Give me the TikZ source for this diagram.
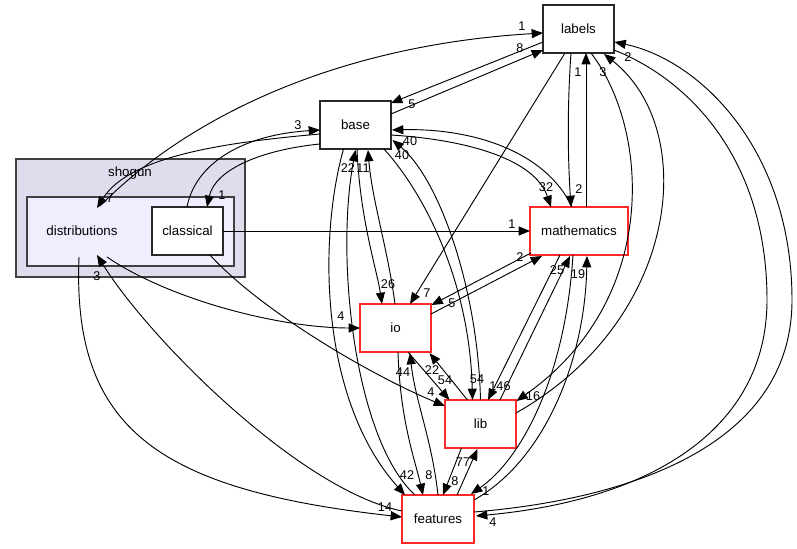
\documentclass[tikz,border=0pt]{standalone}
\usepackage{fontspec}
\setmainfont{Liberation Sans}
\usetikzlibrary{arrows.meta,calc}
\definecolor{clouter}{RGB}{221,221,238}
\definecolor{clinner}{RGB}{238,238,255}
\definecolor{clborder}{RGB}{64,64,64}
\definecolor{boxborder}{RGB}{40,40,40}
\definecolor{redborder}{RGB}{255,40,40}
\begin{document}
\begin{tikzpicture}[x=0.75pt,y=-0.75pt,
  box/.style={draw=boxborder,fill=white,line width=0.85pt,minimum width=53.25pt,minimum height=36pt,inner sep=0pt,font=\fontsize{10}{12}\selectfont},
  redbox/.style={box,draw=redborder},
  edge/.style={-{Triangle[length=8.5pt,width=6.8pt]},line width=0.7pt,black},
  lbl/.style={font=\fontsize{9.5}{11}\selectfont,inner sep=0pt}]
\useasboundingbox (0,0) rectangle (797,549);
\fill[white] (0,0) rectangle (797,549);
% clusters
\draw[fill=clouter,draw=clborder,line width=0.85pt] (16,159) rectangle (245,277);
\node[font=\fontsize{10}{12}\selectfont] (shogunlbl) at (130,173) {shogun};
\draw[fill=clinner,draw=clborder,line width=0.85pt] (27,197) rectangle (234,266);
% nodes
\node[font=\fontsize{10}{12}\selectfont,inner sep=0pt] (dist) at (82,231) {distributions};
\node[box] (classical) at (187.5,231) {classical};
\node[box] (labels) at (578.5,29) {labels};
\node[box] (base) at (355.5,125) {base};
\node[redbox,minimum width=73.5pt] (math) at (579,231) {mathematics};
\node[redbox] (io) at (395.5,328) {io};
\node[redbox] (lib) at (480.5,424) {lib};
\node[redbox,minimum width=54pt] (features) at (438,519) {features};
% edges
\draw[edge] ([shift={(18,-25)}]dist.center) .. controls (190,115) and (340,45) .. ([shift={(-35.5,4)}]labels.center);
\draw[edge] ([shift={(-35.5,9)}]base.center) .. controls (230,142) and (130,155) .. ([shift={(15,-23)}]dist.center);
\draw[edge] ([shift={(-0.5,-24)}]classical.center) .. controls (195,165) and (240,135) .. ([shift={(-35.5,5)}]base.center);
\draw[edge] ([shift={(-35.5,19)}]base.center) .. controls (260,150) and (215,170) .. ([shift={(19.5,-24)}]classical.center);
\draw[edge] ([shift={(-35.5,13)}]labels.center) -- ([shift={(35.5,-22)}]base.center);
\draw[edge] ([shift={(35.5,-11)}]base.center) -- ([shift={(-35.5,21)}]labels.center);
\draw[edge] ([shift={(-13.5,24)}]labels.center) -- ([shift={(14.5,-24)}]io.center);
\draw[edge] ([shift={(-7.5,24)}]labels.center) .. controls (567,110) and (568,160) .. ([shift={(-8,-24)}]math.center);
\draw[edge] ([shift={(7,-24)}]math.center) -- ([shift={(7.5,24)}]labels.center);
\draw[edge] ([shift={(12.5,24)}]labels.center) .. controls (650,130) and (660,300) .. ([shift={(36,-23)}]lib.center);
\draw[edge] ([shift={(35.5,-11)}]lib.center) .. controls (680,320) and (700,130) .. ([shift={(25.5,25)}]labels.center);
\draw[edge] ([shift={(-19,24)}]math.center) -- ([shift={(7.5,-24)}]lib.center);
\draw[edge] ([shift={(19.5,-24)}]lib.center) -- ([shift={(-9,25)}]math.center);
\draw[edge] ([shift={(-6,24)}]math.center) .. controls (565,380) and (520,460) .. ([shift={(33,-25)}]features.center);
\draw[edge] ([shift={(36,-19)}]features.center) .. controls (545,460) and (585,360) .. ([shift={(8,25)}]math.center);
\draw[edge] ([shift={(35.5,21)}]labels.center) .. controls (690,80) and (767,160) .. (767,300) .. controls (767,430) and (650,500) .. ([shift={(38,-3)}]features.center);
\draw[edge] ([shift={(36,-7)}]features.center) .. controls (620,500) and (792,450) .. (792,300) .. controls (792,150) and (700,60) .. ([shift={(36,13)}]labels.center);
\draw[edge] ([shift={(35.5,10)}]base.center) .. controls (470,140) and (535,160) .. ([shift={(-28,-24)}]math.center);
\draw[edge] ([shift={(-7,-24)}]math.center) .. controls (545,150) and (470,128) .. ([shift={(36.5,5)}]base.center);
\draw[edge] ([shift={(1.5,24)}]base.center) .. controls (360,220) and (377,270) .. ([shift={(-13.5,-24)}]io.center);
\draw[edge] ([shift={(-0.5,-24)}]io.center) .. controls (388,250) and (372,200) .. ([shift={(12.5,25)}]base.center);
\draw[edge] ([shift={(-23,-24)}]features.center) .. controls (355,440) and (335,260) .. ([shift={(0,25)}]base.center);
\draw[edge] ([shift={(-12,24)}]base.center) .. controls (318,240) and (320,400) .. ([shift={(-33,-24)}]features.center);
\draw[edge] ([shift={(28.5,24)}]base.center) .. controls (430,200) and (470,290) .. ([shift={(-8,-24)}]lib.center);
\draw[edge] ([shift={(0,-24)}]lib.center) .. controls (478,290) and (440,180) .. ([shift={(37,15)}]base.center);
\draw[edge] ([shift={(12.5,24)}]io.center) -- ([shift={(-31,-24)}]lib.center);
\draw[edge] ([shift={(-13,-24)}]lib.center) -- ([shift={(34,25)}]io.center);
\draw[edge] ([shift={(35.5,-14)}]io.center) -- ([shift={(-37,25)}]math.center);
\draw[edge] ([shift={(-48,22)}]math.center) -- ([shift={(36,-23)}]io.center);
\draw[edge] ([shift={(25,26)}]dist.center) .. controls (170,300) and (280,328) .. ([shift={(-35.5,0)}]io.center);
\draw[edge] ([shift={(35.5,0)}]classical.center) -- ([shift={(-49,0)}]math.center);
\draw[edge] ([shift={(22.5,24)}]classical.center) .. controls (260,310) and (370,375) .. ([shift={(-35.5,-18)}]lib.center);
\draw[edge] ([shift={(-3,26)}]dist.center) .. controls (72,430) and (160,490) .. ([shift={(-36,-2)}]features.center);
\draw[edge] ([shift={(-36,-8)}]features.center) .. controls (300,490) and (150,340) .. ([shift={(15,24)}]dist.center);
\draw[edge] ([shift={(2.5,24)}]io.center) .. controls (400,420) and (415,460) .. ([shift={(-15,-24)}]features.center);
\draw[edge] ([shift={(0,-24)}]features.center) .. controls (432,440) and (415,400) .. ([shift={(14.5,25)}]io.center);
\draw[edge] ([shift={(-19,24)}]lib.center) -- ([shift={(5,-24)}]features.center);
\draw[edge] ([shift={(19,-24)}]features.center) -- ([shift={(-3,25)}]lib.center);
% edge labels
\node[lbl] (t1) at (522,26) {1};
\node[lbl] (t2) at (520,48) {8};
\node[lbl] (t3) at (412,104) {5};
\node[lbl] (t4) at (298,125) {3};
\node[lbl] (t5) at (110,198) {7};
\node[lbl] (t6) at (222,195) {1};
\node[lbl] (t7) at (427,293) {7};
\node[lbl] (t8) at (579,189) {2};
\node[lbl] (t9) at (578,72) {1};
\node[lbl] (t10) at (533,396) {16};
\node[lbl] (t11) at (603,72) {3};
\node[lbl] (t12) at (500,386) {146};
\node[lbl] (t13) at (557,270) {25};
\node[lbl] (t14) at (486,491) {1};
\node[lbl] (t15) at (578,274) {19};
\node[lbl] (t16) at (628,57) {2};
\node[lbl] (t17) at (493,522) {4};
\node[lbl] (t18) at (546,187) {32};
\node[lbl] (t19) at (410,141) {40};
\node[lbl] (t20) at (388,284) {26};
\node[lbl] (t21) at (363,168) {11};
\node[lbl] (t22) at (348,168) {22};
\node[lbl] (t23) at (407,475) {42};
\node[lbl] (t24) at (477,379) {54};
\node[lbl] (t25) at (402,155) {40};
\node[lbl] (t26) at (445,380) {54};
\node[lbl] (t27) at (432,370) {22};
\node[lbl] (t28) at (520,257) {2};
\node[lbl] (t29) at (452,303) {5};
\node[lbl] (t30) at (341,316) {4};
\node[lbl] (t31) at (512,224) {1};
\node[lbl] (t32) at (431,392) {4};
\node[lbl] (t33) at (385,507) {14};
\node[lbl] (t34) at (97,276) {3};
\node[lbl] (t35) at (429,475) {8};
\node[lbl] (t36) at (403,372) {44};
\node[lbl] (t37) at (455,481) {8};
\node[lbl] (t38) at (463,462) {77};
\end{tikzpicture}
\end{document}
